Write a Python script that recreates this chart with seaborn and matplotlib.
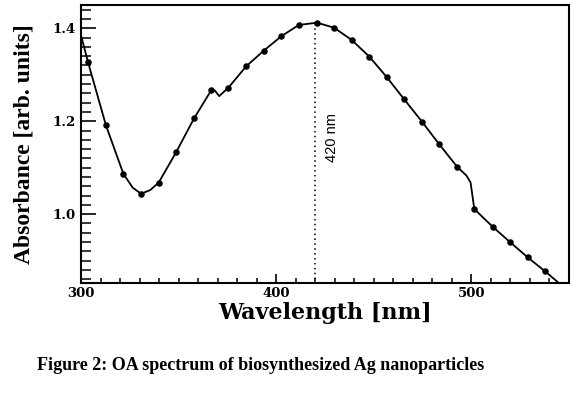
import numpy as np
import pandas as pd
import seaborn as sns
import matplotlib.pyplot as plt
from matplotlib.ticker import MultipleLocator

# --- dados ---
# curva continua (inclui pontos sem marcador: inicio, vale em ~371, joelho em ~499, fim)
curve_nm = [300.0, 303.6, 312.8, 321.7, 326.5, 330.8, 335.5, 339.8, 348.7, 357.9,
            366.8, 368.6, 370.8, 375.5, 384.6, 393.7, 402.7, 411.6, 420.9, 429.7,
            438.6, 447.7, 456.6, 465.6, 474.7, 483.6, 492.7, 497.5, 499.6, 501.5,
            510.9, 519.8, 528.9, 537.8, 544.8]
curve_abs = [1.385, 1.327, 1.191, 1.087, 1.057, 1.044, 1.052, 1.068, 1.133, 1.206,
             1.267, 1.266, 1.254, 1.272, 1.318, 1.352, 1.383, 1.407, 1.412, 1.401,
             1.375, 1.339, 1.295, 1.247, 1.199, 1.150, 1.102, 1.083, 1.068, 1.011,
             0.973, 0.940, 0.907, 0.877, 0.852]

# pontos com marcador
marker_nm = [303.6, 312.8, 321.7, 330.8, 339.8, 348.7, 357.9, 366.8, 375.5, 384.6,
             393.7, 402.7, 411.6, 420.9, 429.7, 438.6, 447.7, 456.6, 465.6, 474.7,
             483.6, 492.7, 501.5, 510.9, 519.8, 528.9, 537.8]
marker_abs = [1.327, 1.191, 1.087, 1.044, 1.068, 1.133, 1.206, 1.267, 1.272, 1.318,
              1.352, 1.383, 1.407, 1.412, 1.401, 1.375, 1.339, 1.295, 1.247, 1.199,
              1.150, 1.102, 1.011, 0.973, 0.940, 0.907, 0.877]

peak_nm = 420
peak_abs = 1.412
peak_label = '420 nm'

x_ticks = [300, 400, 500]
y_ticks = [1.0, 1.2, 1.4]

caption = 'Figure 2: OA spectrum of biosynthesized Ag nanoparticles'

df_curve = pd.DataFrame({'nm': curve_nm, 'abs': curve_abs})
df_pts = pd.DataFrame({'nm': marker_nm, 'abs': marker_abs})

sns.set_style('ticks')
plt.rcParams['font.family'] = ['Liberation Serif', 'DejaVu Serif']
plt.rcParams['text.color'] = 'black'
plt.rcParams['axes.labelcolor'] = 'black'
plt.rcParams['xtick.color'] = 'black'
plt.rcParams['ytick.color'] = 'black'

fig = plt.figure(figsize=(5.81, 3.93), dpi=100)
ax = fig.add_axes([0.1394, 0.2799, 0.8399, 0.7074])

sns.lineplot(data=df_curve, x='nm', y='abs', ax=ax, color='black', linewidth=1.3,
             sort=False, estimator=None)
sns.scatterplot(data=df_pts, x='nm', y='abs', ax=ax, color='black', s=22,
                edgecolor='black', linewidth=0, zorder=3)

# linha pontilhada no pico
ax.vlines(peak_nm, 0.85, peak_abs, colors='black', linestyles=(0, (1, 2.2)), linewidth=1.1)
ax.text(peak_nm + 8.7, 1.164, peak_label, rotation=90, ha='center', va='center',
        fontsize=10.5, family=['Liberation Sans', 'DejaVu Sans'])

ax.set_xlim(300, 550)
ax.set_ylim(0.852, 1.45)
ax.set_xticks(x_ticks)
ax.set_yticks(y_ticks)
ax.set_yticklabels([f'{v:.1f}' for v in y_ticks])
ax.xaxis.set_minor_locator(MultipleLocator(10))
ax.yaxis.set_minor_locator(MultipleLocator(0.02))

ax.tick_params(axis='x', which='major', direction='in', length=6.5, width=1.2, pad=3)
ax.tick_params(axis='x', which='minor', direction='in', length=3.6, width=1.1)
ax.tick_params(axis='y', which='major', direction='in', length=11, width=1.2, pad=4)
ax.tick_params(axis='y', which='minor', direction='in', length=7, width=1.1)
for lab in ax.get_xticklabels() + ax.get_yticklabels():
    lab.set_fontfamily('DejaVu Serif')
    lab.set_fontweight('bold')
    lab.set_fontsize(9.5)

for sp in ax.spines.values():
    sp.set_linewidth(1.5)
    sp.set_color('black')

ax.set_xlabel('Wavelength [nm]', fontsize=16, fontweight='bold',
              family=['DejaVu Serif'], labelpad=1)
ax.set_ylabel('Absorbance [arb. units]', fontsize=17, fontweight='bold', labelpad=13)

fig.text(0.448, 1 - 365 / 393, caption, ha='center', va='center',
         fontsize=13, fontweight='bold')

fig.savefig('out.png', dpi=100)
